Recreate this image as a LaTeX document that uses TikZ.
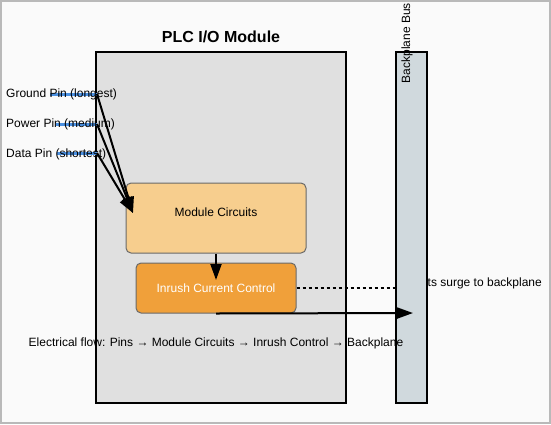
\documentclass[tikz,border=0pt]{standalone}
\usepackage{fontspec}
\setmainfont{Liberation Sans}
\usetikzlibrary{arrows.meta,positioning,calc}
\definecolor{pagebg}{RGB}{250,250,250}
\definecolor{framegray}{RGB}{185,185,185}
\definecolor{modgray}{RGB}{224,224,224}
\definecolor{busgray}{RGB}{208,217,221}
\definecolor{circorange}{RGB}{247,206,142}
\definecolor{inrushorange}{RGB}{240,160,58}
\definecolor{edgegray}{RGB}{105,105,105}
\definecolor{pinblue}{RGB}{74,144,226}

\begin{document}
\begin{tikzpicture}[x=1pt, y=-1pt,
  txt/.style={font=\fontsize{12}{14}\selectfont, inner sep=0pt},
  panel/.style={inner sep=0pt, outer sep=0pt},
  border/.style={draw=black, line width=2pt},
  block/.style={draw=edgegray, rounded corners=5pt, line width=1pt, align=center, font=\fontsize{12}{14}\selectfont},
  pinbar/.style={draw=pinblue, line width=3pt},
  arr/.style={-{Triangle[length=16pt,width=11pt]}, line width=2pt}
]
\useasboundingbox (0,0) rectangle (551,424);
\draw[framegray, fill=pagebg, line width=1.5pt] (0.75,0.75) rectangle (550,423);

% module body and bus
\node[panel, fill=modgray, minimum width=250pt, minimum height=351pt] (module) at (221,227.5) {};
\node[txt, anchor=east] (surge) at (542,283) {Limits surge to backplane};
\node[panel, fill=busgray, minimum width=31pt, minimum height=351pt] (bus) at (411.5,227.5) {};
\node[txt] (flow) at (216,343) {Electrical flow: Pins → Module Circuits → Inrush Control → Backplane};
\draw[border] (module.north west) rectangle (module.south east);
\draw[border] (bus.north west) rectangle (bus.south east);

\node[font=\bfseries\fontsize{16}{19}\selectfont] (title) at (221,37) {PLC I/O Module};
\node[txt, rotate=90] (buslabel) at (407,43) {Backplane Bus};

% inner blocks
\node[block, fill=circorange, minimum width=180pt, minimum height=70pt, text height=9pt, text depth=13pt] (circuits) at (216,218) {Module Circuits};
\node[block, fill=inrushorange, text=white, minimum width=160pt, minimum height=50pt] (inrush) at (216,288) {Inrush Current Control};

% pins
\coordinate (gnd-in) at (50,94);
\coordinate (gnd-out) at (97,94);
\coordinate (pwr-in) at (56,124);
\coordinate (pwr-out) at (97,124);
\coordinate (dat-in) at (57,153);
\coordinate (dat-out) at (97,153);
\coordinate (circ-in) at (133,213);
\draw[pinbar] (gnd-in) -- (gnd-out);
\draw[pinbar] (pwr-in) -- (pwr-out);
\draw[pinbar] (dat-in) -- (dat-out);
\node[txt, anchor=west] (gnd) at (6,94) {Ground Pin (longest)};
\node[txt, anchor=west] (pwr) at (6,124) {Power Pin (medium)};
\node[txt, anchor=west] (dat) at (6,154) {Data Pin (shortest)};

\draw[arr] (gnd-out) -- (circ-in);
\draw[arr] (pwr-out) -- (circ-in);
\draw[arr] (dat-out) -- (circ-in);
\coordinate (inrush-in) at (216,280);
\draw[arr] (circuits.south) -- (inrush-in);
\draw[dashed, line width=1.5pt] (inrush.east) -- (inrush.east -| bus.west);
\coordinate (bus-in) at (413,313);
\draw[arr] (inrush.south) -- (bus-in);
\end{tikzpicture}
\end{document}
